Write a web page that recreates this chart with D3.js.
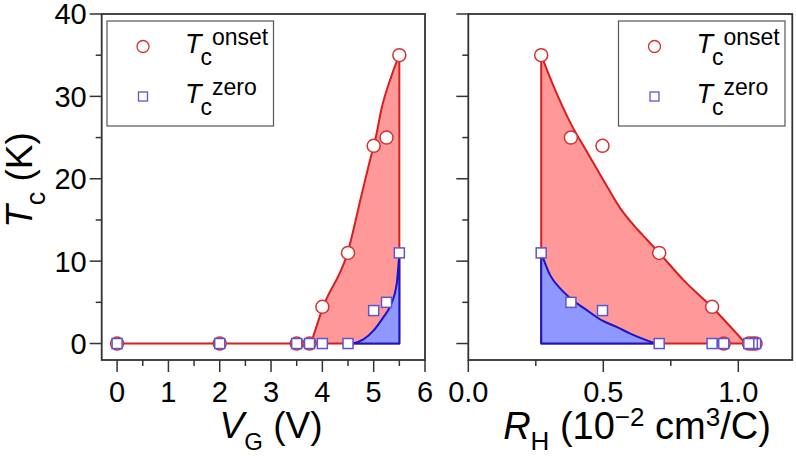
<!DOCTYPE html>
<html><head><meta charset="utf-8">
<script src="https://cdn.jsdelivr.net/npm/d3@7"></script>
<style>
html,body{margin:0;padding:0;background:#fff;}
svg{display:block;font-family:"Liberation Sans",Arial,Helvetica,sans-serif;}
</style></head>
<body>
<svg id="chart" width="796" height="458"></svg>
<script>
// ---- data ----
const VG       = [0, 2, 3.5, 3.75, 4, 4.5, 5, 5.25, 5.5];
const RH       = [1.064, 1.052, 1.039, 0.946, 0.903, 0.707, 0.497, 0.38, 0.27];
const TcOnset  = [0, 0, 0, 0, 4.45, 11, 24, 25, 35];
const TcZero   = [0, 0, 0, 0, 0, 0, 4, 5, 11];

// smooth guide curves
const onsetFitVG = [3.78, 4.0, 4.5, 4.77, 4.93, 5.03, 5.16, 5.32, 5.46, 5.5];
const onsetFitTc = [0, 4.2, 11.2, 18.2, 22.3, 24.7, 28.7, 32, 34.4, 35];
const zeroFitVG  = [4.6, 4.8, 5.0, 5.2, 5.32, 5.45, 5.49, 5.5];
const zeroFitTc  = [0, 0.5, 1.6, 3.3, 4.5, 7.3, 10.1, 10.8];

const onsetFitRH = [0.27, 0.315, 0.381, 0.439, 0.501, 0.563, 0.625, 0.662, 0.707, 0.80, 0.903, 1.027];
const onsetFitTcR= [35, 31.3, 26.6, 23.3, 19.8, 16.4, 13.9, 12.6, 11, 7.6, 4.4, 0];
const zeroFitRH  = [0.27, 0.303, 0.340, 0.378, 0.439, 0.495, 0.551, 0.600, 0.693];
const zeroFitTcR = [11, 8.3, 6.7, 5.5, 4.05, 2.8, 2.0, 1.2, 0];

const vgMajor = [0, 1, 2, 3, 4, 5, 6];
const vgMinor = [0.5, 1.5, 2.5, 3.5, 4.5, 5.5];
const rhMajor = [0, 0.5, 1.0];
const rhMajorLabels = ["0.0", "0.5", "1.0"];
const rhMinor = [0.25, 0.75];
const tcMajor = [0, 10, 20, 30, 40];
const tcMinor = [5, 15, 25, 35];

// ---- styles ----
const RED_LINE = "#d81e1e", RED_FILL = "#ff9898";
const BLUE_LINE = "#1a14c8", BLUE_FILL = "#8e98ff";
const CIRC_STROKE = "#d63030", SQ_STROKE = "#5c56d0";
const AXIS = "#333";

const svg = d3.select("#chart");
const plotTop = 14, plotBottom = 360;
const y = d3.scaleLinear().domain([-2, 40]).range([plotBottom, plotTop]);
const xL = d3.scaleLinear().domain([-0.3, 6]).range([101.7, 425]);
const xR = d3.scaleLinear().domain([0, 1.2]).range([468.3, 792.3]);

function drawPanel(x, opts) {
  const g = svg.append("g");
  const [x0, x1] = x.range();
  const mk = (xs, ys) => xs.map((v, i) => [v, ys[i]]);
  const area = d3.area().x(d => x(d[0])).y0(y(0)).y1(d => y(d[1])).curve(d3.curveMonotoneX);
  g.append("path").attr("d", area(mk(opts.onFitX, opts.onFitY)))
    .attr("fill", RED_FILL).attr("stroke", RED_LINE).attr("stroke-width", 2).attr("stroke-linejoin", "round");
  g.append("path").attr("d", area(mk(opts.zFitX, opts.zFitY)))
    .attr("fill", BLUE_FILL).attr("stroke", BLUE_LINE).attr("stroke-width", 2).attr("stroke-linejoin", "round");
  if (opts.baseLine) {
    g.append("line").attr("x1", x(opts.baseLine[0])).attr("x2", x(opts.baseLine[1]))
      .attr("y1", y(0)).attr("y2", y(0)).attr("stroke", RED_LINE).attr("stroke-width", 2);
  }
  const xs = opts.xs;
  g.selectAll("circle.on").data(xs.map((v, i) => [v, TcOnset[i]])).join("circle")
    .attr("cx", d => x(d[0])).attr("cy", d => y(d[1])).attr("r", 6.5)
    .attr("fill", "#fff").attr("stroke", CIRC_STROKE).attr("stroke-width", 1.5);
  const s = 10;
  g.selectAll("rect.z").data(xs.map((v, i) => [v, TcZero[i]])).join("rect")
    .attr("x", d => x(d[0]) - s / 2).attr("y", d => y(d[1]) - s / 2).attr("width", s).attr("height", s)
    .attr("fill", "#fff").attr("stroke", SQ_STROKE).attr("stroke-width", 1.5);

  g.append("rect").attr("x", x0).attr("y", plotTop).attr("width", x1 - x0).attr("height", plotBottom - plotTop)
    .attr("fill", "none").attr("stroke", AXIS).attr("stroke-width", 1.8);
  opts.xMajor.forEach((v, i) => {
    g.append("line").attr("x1", x(v)).attr("x2", x(v)).attr("y1", plotBottom).attr("y2", plotBottom + 12)
      .attr("stroke", AXIS).attr("stroke-width", 1.5);
    g.append("text").attr("x", x(v)).attr("y", plotBottom + 42).attr("text-anchor", "middle")
      .attr("font-size", 29).attr("fill", "#000").text(opts.xLabels[i]);
  });
  opts.xMinor.forEach(v => {
    g.append("line").attr("x1", x(v)).attr("x2", x(v)).attr("y1", plotBottom).attr("y2", plotBottom + 6)
      .attr("stroke", AXIS).attr("stroke-width", 1.5);
  });
  tcMajor.forEach(v => {
    g.append("line").attr("x1", x0 - 12).attr("x2", x0).attr("y1", y(v)).attr("y2", y(v))
      .attr("stroke", AXIS).attr("stroke-width", 1.5);
    if (opts.yLabels) {
      g.append("text").attr("x", x0 - 15).attr("y", y(v)).attr("dy", "0.36em").attr("text-anchor", "end")
        .attr("font-size", 29).attr("fill", "#000").text(v);
    }
  });
  tcMinor.forEach(v => {
    g.append("line").attr("x1", x0 - 6).attr("x2", x0).attr("y1", y(v)).attr("y2", y(v))
      .attr("stroke", AXIS).attr("stroke-width", 1.5);
  });
  const lx = opts.legendX, ly = 21;
  g.append("rect").attr("x", lx).attr("y", ly).attr("width", 166.5).attr("height", 105)
    .attr("fill", "#fff").attr("stroke", "#555").attr("stroke-width", 1.2);
  g.append("circle").attr("cx", lx + 36).attr("cy", ly + 25.5).attr("r", 6)
    .attr("fill", "#fff").attr("stroke", CIRC_STROKE).attr("stroke-width", 1.3);
  g.append("rect").attr("x", lx + 36 - 4.5).attr("y", ly + 75.5 - 4.5).attr("width", 9).attr("height", 9)
    .attr("fill", "#fff").attr("stroke", SQ_STROKE).attr("stroke-width", 1.3);
  [["onset", ly + 32], ["zero", ly + 82]].forEach(([sup, by]) => {
    const t = g.append("text").attr("x", lx + 78).attr("y", by).attr("fill", "#000");
    t.append("tspan").attr("font-size", 27).attr("font-style", "italic").text("T");
    t.append("tspan").attr("font-size", 23).attr("dy", 11.5).attr("dx", -1).text("c");
    t.append("tspan").attr("font-size", 23).attr("dy", -20).text(sup);
  });
}

drawPanel(xL, {
  xs: VG, onFitX: onsetFitVG, onFitY: onsetFitTc, zFitX: zeroFitVG, zFitY: zeroFitTc,
  baseLine: [0, 3.78], xMajor: vgMajor, xLabels: vgMajor.map(String), xMinor: vgMinor,
  yLabels: true, legendX: 107
});
drawPanel(xR, {
  xs: RH, onFitX: onsetFitRH, onFitY: onsetFitTcR, zFitX: zeroFitRH, zFitY: zeroFitTcR,
  baseLine: null, xMajor: rhMajor, xLabels: rhMajorLabels, xMinor: rhMinor,
  yLabels: false, legendX: 618.5
});

const yt = svg.append("text").attr("transform", "translate(32,180) rotate(-90)")
  .attr("text-anchor", "middle").attr("fill", "#000").attr("font-size", 37);
yt.append("tspan").attr("font-style", "italic").text("T");
yt.append("tspan").attr("font-size", 27).attr("dy", 13).text("c");
yt.append("tspan").attr("dy", -13).text(" (K)");

const xt1 = svg.append("text").attr("x", 271).attr("y", 438).attr("text-anchor", "middle")
  .attr("fill", "#000").attr("font-size", 37);
xt1.append("tspan").attr("font-style", "italic").text("V");
xt1.append("tspan").attr("font-size", 24).attr("dy", 12).text("G");
xt1.append("tspan").attr("dy", -12).text(" (V)");

const xt2 = svg.append("text").attr("x", 637).attr("y", 439).attr("text-anchor", "middle")
  .attr("fill", "#000").attr("font-size", 38);
xt2.append("tspan").attr("font-style", "italic").text("R");
xt2.append("tspan").attr("font-size", 26).attr("dy", 11).text("H");
xt2.append("tspan").attr("dy", -11).text(" (10");
xt2.append("tspan").attr("font-size", 26).attr("dy", -13).text("\u22122");
xt2.append("tspan").attr("dy", 13).text(" cm");
xt2.append("tspan").attr("font-size", 26).attr("dy", -13).text("3");
xt2.append("tspan").attr("dy", 13).text("/C)");
</script>
</body></html>
